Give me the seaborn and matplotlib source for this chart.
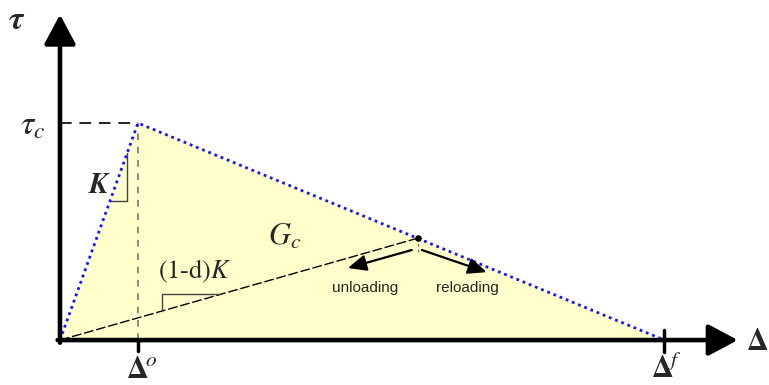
import numpy as np
import pandas as pd
import matplotlib
matplotlib.use("Agg")
import matplotlib.pyplot as plt
import seaborn as sns

# -------------------------
# Data (bilinear traction-separation law)
# -------------------------

delta_law = [0.0, 1.0, 7.75]     # 0, delta_0, delta_f
tau_law = [0.0, 1.0, 0.0]        # 0, tau_c, 0

delta_d = 4.59                   # current damaged state
tau_d = 0.47

law = pd.DataFrame({"delta": delta_law, "tau": tau_law})
unload = pd.DataFrame({"delta": [0.0, delta_d], "tau": [0.0, tau_d]})

sns.set_style("white")
plt.rcParams["mathtext.fontset"] = "stix"

fig = plt.figure(figsize=(7.69, 3.85), dpi=100)
ax = fig.add_axes([0, 0, 1, 1])
ax.set_xlim(-0.769, 9.09)
ax.set_ylim(-0.207, 1.567)
ax.axis("off")

d0, df_ = delta_law[1], delta_law[2]
tc = tau_law[1]
K = tc / d0
Kd = tau_d / delta_d

# yellow area (fracture energy)
ax.fill(law["delta"], law["tau"], color="#ffffcc", zorder=0, lw=0)

# -------------------------
# Lines
# -------------------------

sns.lineplot(data=law, x="delta", y="tau", sort=False, estimator=None,
             color="#1414ff", lw=2.0, ls=(0, (1, 1.4)), ax=ax, zorder=3)

sns.lineplot(data=unload, x="delta", y="tau", sort=False, estimator=None,
             color="black", lw=1.0, ls=(0, (7, 2)), ax=ax, zorder=2)

# helper dashed lines
ax.plot([0, d0], [tc, tc], color="#222222", lw=1.4, ls=(0, (6, 4)), zorder=2)
ax.plot([d0, d0], [0, tc], color="#777777", lw=1.2, ls=(0, (4, 4)), zorder=2)
ax.plot([delta_d, delta_d], [tau_d, tau_d - 0.065], color="#777777",
        lw=1.0, ls=(0, (2, 2)), zorder=2)
ax.scatter([delta_d], [tau_d], s=14, color="black", zorder=4)

# slope triangles
x1, x2 = 0.64, 0.86
ax.plot([x1, x2, x2], [K * x1, K * x1, K * x2], color="#444444", lw=1.0)
x3, x4 = 1.31, 2.07
ax.plot([x3, x3, x4], [Kd * x3, Kd * x4, Kd * x4], color="#444444", lw=1.0)

# -------------------------
# Axes with arrows
# -------------------------

arrow = dict(arrowstyle="-|>,head_length=0.9,head_width=0.48", color="black",
             lw=3.3, shrinkA=0, shrinkB=0, mutation_scale=20)
ax.annotate("", xy=(0, 1.50), xytext=(0, -0.012), arrowprops=arrow, zorder=5)
ax.annotate("", xy=(8.69, 0), xytext=(-0.03, 0), arrowprops=arrow, zorder=5)

ax.plot([d0, d0], [0, -0.05], color="black", lw=2.5, zorder=5)
ax.plot([df_, df_], [0.045, -0.055], color="black", lw=2.5, zorder=5)

# loading / reloading arrows
small = dict(arrowstyle="-|>,head_length=0.8,head_width=0.35", color="black",
             lw=1.6, shrinkA=0, shrinkB=0, mutation_scale=14)
ax.annotate("", xy=(delta_d - 0.9, tau_d - 0.138), xytext=(delta_d - 0.08, tau_d - 0.055),
            arrowprops=small)
ax.annotate("", xy=(delta_d + 0.88, tau_d - 0.157), xytext=(delta_d + 0.05, tau_d - 0.055),
            arrowprops=small)

# -------------------------
# Labels
# -------------------------

ax.text(-0.55, 1.475, r"$\boldsymbol{\tau}$", fontsize=24, ha="center", va="center")
ax.text(-0.35, tc - 0.01, r"$\boldsymbol{\tau_c}$", fontsize=24, ha="center", va="center")
ax.text(0.51, 0.714, r"$\boldsymbol{K}$", fontsize=21, ha="center", va="center")
ax.text(2.88, 0.48, r"$G_c$", fontsize=22, ha="center", va="center")
ax.text(1.73, 0.315, r"$\mathrm{(1\text{-}d)}K$", fontsize=19, ha="center", va="center")
ax.text(delta_d - 0.68, tau_d - 0.23, "unloading", fontsize=11, ha="center",
        va="center", family="Liberation Sans")
ax.text(delta_d + 0.63, tau_d - 0.23, "reloading", fontsize=11, ha="center",
        va="center", family="Liberation Sans")
ax.text(d0 + 0.05, -0.135, r"$\mathbf{\Delta}^{\!o}$", fontsize=22, ha="center", va="center")
ax.text(df_ + 0.02, -0.135, r"$\mathbf{\Delta}^{\!f}$", fontsize=22, ha="center", va="center")
ax.text(8.79, -0.005, r"$\mathbf{\Delta}$", fontsize=22, ha="left", va="center")

fig.savefig("out.png", dpi=100)
